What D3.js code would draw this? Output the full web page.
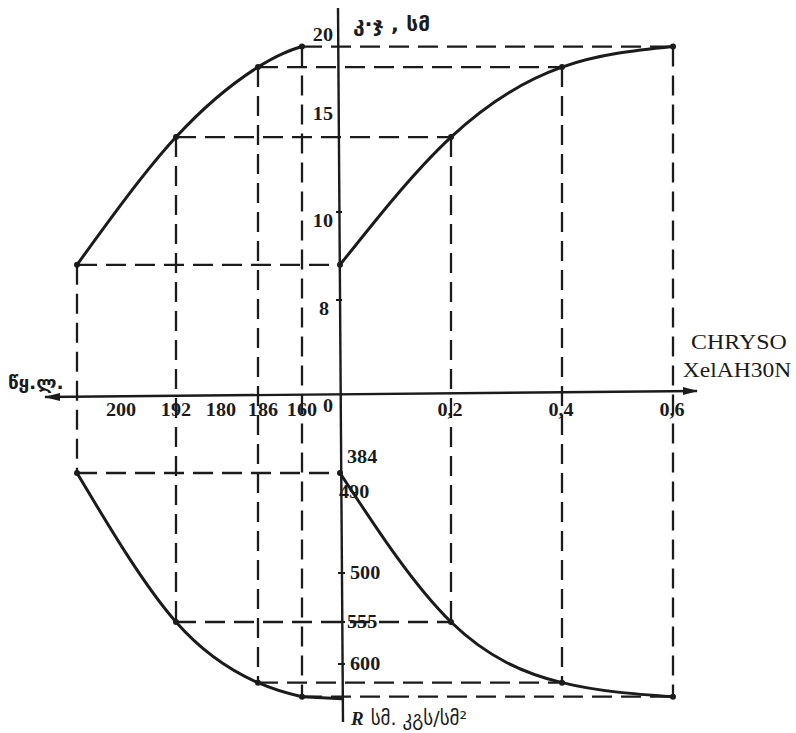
<!DOCTYPE html>
<html><head><meta charset="utf-8">
<script src="https://cdn.jsdelivr.net/npm/d3@7"></script>
<style>body{margin:0;background:#fff}</style>
</head><body><svg id="c" width="796" height="733"></svg>
<script>
// Four mixes
const additive = [0, 0.2, 0.4, 0.6];      // CHRYSO XelAH30N, %
const water    = [205, 192, 186, 160];    // water, l
const slump    = [8.8, 13.5, 17.4, 18.7]; // cone slump, cm
const strength = [490, 555, 620, 635];    // R, kgf/cm2

// printed tick labels
const slumpTicks    = [8, 10, 15, 20];
const strengthTicks = [500, 555, 600];
const additiveTicks = [0.2, 0.4, 0.6];
const waterTicks    = [200, 192, 180, 186, 160, 0];
const startNotes    = ["384", "490"];

const svg = d3.select("#c");
const ink = "#1b1b1b";
const numFont = "Liberation Serif, Times New Roman, serif";
const geoFont = "DejaVu Sans, Noto Sans, sans-serif";

// nomogram scales (the printed axes are not uniform, so piecewise)
const xR = d3.scaleLinear().domain([0, 0.6]).range([340, 673]);
const xL = d3.scaleLinear().domain([0, 160, 186, 192, 205]).range([340, 302, 258, 176, 77]);
const yT = d3.scaleLinear().domain([8, 10, 15, 20]).range([300, 212, 105, 26]);
const yB = d3.scaleLinear().domain([490, 500, 555, 600]).range([473, 573, 622, 664]);

const mixes = additive.map((a, i) => ({a, w: water[i], s: slump[i], r: strength[i]}));

function stretch(sel, k) {
  sel.each(function () {
    const w = this.getComputedTextLength();
    d3.select(this).attr("textLength", w * k).attr("lengthAdjust", "spacingAndGlyphs");
  });
  return sel;
}

// ---- axes
const axisG = svg.append("g").attr("stroke", ink).attr("stroke-width", 2.4).attr("fill", "none");
axisG.append("line").attr("x1", 45).attr("y1", 397).attr("x2", 697).attr("y2", 391);
axisG.append("line").attr("x1", 338).attr("y1", 8).attr("x2", 343).attr("y2", 722);
svg.append("path").attr("d", "M44,397 L60,393 L60,401 Z").attr("fill", ink);
svg.append("path").attr("d", "M698,391 L683,387 L683,395 Z").attr("fill", ink);

// ---- dashed guide lines
const g = svg.append("g").attr("stroke", ink).attr("stroke-width", 2.3)
  .attr("stroke-dasharray", "20,9").attr("fill", "none");
mixes.forEach(m => {
  g.append("line").attr("x1", xL(m.w)).attr("x2", xR(m.a)).attr("y1", yT(m.s)).attr("y2", yT(m.s));
  g.append("line").attr("x1", xL(m.w)).attr("x2", xR(m.a)).attr("y1", yB(m.r)).attr("y2", yB(m.r));
  g.append("line").attr("x1", xL(m.w)).attr("x2", xL(m.w)).attr("y1", yT(m.s)).attr("y2", yB(m.r));
  if (m.a > 0)
    g.append("line").attr("x1", xR(m.a)).attr("x2", xR(m.a)).attr("y1", yT(m.s)).attr("y2", yB(m.r));
});

// ---- curves
const line = d3.line().curve(d3.curveNatural);
const curves = [
  mixes.map(m => [xL(m.w), yT(m.s)]),
  mixes.map(m => [xR(m.a), yT(m.s)]),
  mixes.map(m => [xL(m.w), yB(m.r)]),
  mixes.map(m => [xR(m.a), yB(m.r)])
];
curves.forEach(c => {
  const pts = c.slice().sort((p, q) => p[0] - q[0]);
  svg.append("path").attr("d", line(pts)).attr("fill", "none")
    .attr("stroke", ink).attr("stroke-width", 3);
  svg.selectAll(null).data(c).join("circle")
    .attr("cx", d => d[0]).attr("cy", d => d[1]).attr("r", 3).attr("fill", ink);
});
// tail of the lower-left curve reaching the axis
svg.append("line").attr("x1", xL(water[3])).attr("y1", yB(strength[3]))
  .attr("x2", 342).attr("y2", yB(strength[3]) + 2).attr("stroke", ink).attr("stroke-width", 3);

// ---- tick marks on vertical axis
const tk = svg.append("g").attr("stroke", ink).attr("stroke-width", 2);
slumpTicks.filter(v => v < 15).forEach(v => tk.append("line").attr("x1", 336).attr("x2", 342).attr("y1", yT(v)).attr("y2", yT(v)));
strengthTicks.forEach(v => tk.append("line").attr("x1", 338).attr("x2", 345).attr("y1", yB(v)).attr("y2", yB(v)));

// ---- tick labels
const lab = svg.append("g").attr("font-family", numFont).attr("font-weight", "bold")
  .attr("font-size", 18).attr("fill", ink);
slumpTicks.forEach(v => {
  stretch(lab.append("text").attr("x", v === 8 ? 329 : 333).attr("y", yT(v) + 15)
    .attr("text-anchor", "end").text(v), 1.12);
});
strengthTicks.forEach(v => {
  stretch(lab.append("text").attr("x", v === 555 ? 347 : 350).attr("y", yB(v) + 6).text(v), 1.12);
});
stretch(lab.append("text").attr("x", 347).attr("y", yB(strength[0]) - 10).text(startNotes[0]), 1.12);
stretch(lab.append("text").attr("x", 339).attr("y", yB(strength[0]) + 25).text(startNotes[1]), 1.12);

additiveTicks.forEach(v => {
  stretch(lab.append("text").attr("x", xR(v) - 1).attr("y", 416).attr("text-anchor", "middle")
    .text(d3.format(".1f")(v).replace(".", ",")), 1.12);
});
// water labels: values follow the scale; the out-of-order "180" sits between its neighbours
waterTicks.forEach((v, i) => {
  let x, anchor = "middle", y = 416;
  if (v === 0) { x = xL(0) - 7; anchor = "end"; y = 412; }
  else if (i > 0 && i < waterTicks.length - 1 &&
           (v - waterTicks[i - 1]) * (waterTicks[i + 1] - v) < 0 && v < waterTicks[i + 1]) {
    x = (xL(waterTicks[i - 1]) + xL(waterTicks[i + 1])) / 2 + 4;
  } else if (v === 186) { x = xL(v) + 5; }
  else x = xL(v) + (v === 200 ? 6 : 0);
  stretch(lab.append("text").attr("x", x).attr("y", y).attr("text-anchor", anchor).text(v), 1.12);
});

// ---- axis titles
stretch(svg.append("text").attr("x", 353).attr("y", 31).attr("font-family", geoFont)
  .attr("font-weight", "bold").attr("font-size", 19).attr("fill", ink).text("კ·ჯ , სმ"), 1.1);
stretch(svg.append("text").attr("x", 8).attr("y", 389).attr("font-family", geoFont)
  .attr("font-weight", "bold").attr("font-size", 18).attr("fill", ink).text("წყ.ლ."), 1.05);
stretch(svg.append("text").attr("x", 739).attr("y", 349).attr("text-anchor", "middle")
  .attr("font-family", numFont).attr("font-size", 21).attr("fill", ink).text("CHRYSO"), 1.14);
stretch(svg.append("text").attr("x", 737).attr("y", 377).attr("text-anchor", "middle")
  .attr("font-family", numFont).attr("font-size", 21).attr("fill", ink).text("XelAH30N"), 1.12);
const bt = svg.append("text").attr("x", 351).attr("y", 725).attr("fill", ink);
bt.append("tspan").attr("font-family", numFont).attr("font-style", "italic")
  .attr("font-weight", "bold").attr("font-size", 19).text("R");
bt.append("tspan").attr("dx", 7).attr("font-family", geoFont).attr("font-size", 19).text("სმ. კგს/სმ²");
</script></body></html>
